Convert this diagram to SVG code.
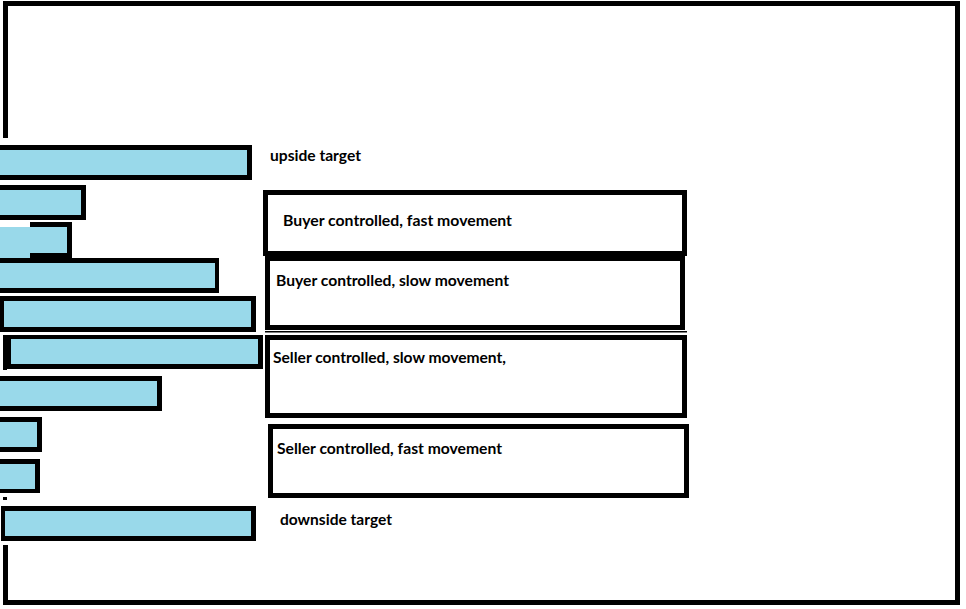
<svg xmlns="http://www.w3.org/2000/svg" width="966" height="609" viewBox="0 0 966 609">
<style>
.k{fill:#000}
.b{fill:#99d9ea}
.w{fill:#fff}
.t{font-family:Lato,"Open Sans","Liberation Sans",sans-serif;font-weight:bold;font-size:16px;fill:#000}
</style>
<rect x="0" y="0" width="966" height="609" fill="#fff"/>
<g id="frame">
<rect class="k" x="3" y="1" width="957" height="5"/>
<rect class="k" x="955" y="1" width="5" height="604"/>
<rect class="k" x="3" y="600" width="957" height="5"/>
<rect class="k" x="3" y="1" width="5" height="137"/>
<rect class="k" x="3" y="545" width="5" height="60"/>
</g>
<g id="bars">
<g id="bar1"><rect class="k" x="0" y="145" width="252" height="35"/><rect class="b" x="0" y="150" width="247" height="25"/></g>
<g id="bar2"><rect class="k" x="0" y="185" width="86" height="35"/><rect class="b" x="0" y="190" width="81" height="25"/></g>
<g id="bar3"><rect class="k" x="30" y="222" width="42" height="36"/><rect class="b" x="0" y="227" width="67" height="26"/><rect class="b" x="0" y="227" width="30" height="31"/></g>
<g id="bar4"><rect class="k" x="0" y="258" width="219" height="35"/><rect class="b" x="0" y="263" width="215" height="25"/></g>
<g id="bar5"><rect class="k" x="0" y="296" width="256" height="36"/><rect class="b" x="4" y="301" width="247" height="26"/></g>
<g id="bar6"><rect class="k" x="3" y="335" width="260" height="34"/><rect class="b" x="11" y="339" width="247" height="25"/><rect class="k" x="3" y="364" width="4" height="6"/></g>
<g id="bar7"><rect class="k" x="0" y="376" width="162" height="35"/><rect class="b" x="0" y="381" width="157" height="25"/></g>
<g id="bar8"><rect class="k" x="0" y="417" width="42" height="35"/><rect class="b" x="0" y="422" width="37" height="25"/></g>
<g id="bar9"><rect class="k" x="0" y="459" width="40" height="34"/><rect class="b" x="0" y="464" width="35" height="25"/></g>
<rect class="k" x="3" y="497" width="4" height="3"/>
<g id="bar10"><rect class="k" x="1" y="506" width="255" height="35"/><rect class="b" x="5" y="511" width="246" height="25"/></g>
</g>
<g id="upside-target"><text class="t" x="270" y="161" textLength="91" lengthAdjust="spacingAndGlyphs">upside target</text></g>
<g id="buyer-fast">
<rect class="k" x="263" y="190" width="424" height="66"/><rect class="w" x="268" y="195" width="414" height="56"/>
<text class="t" x="283" y="226" textLength="229" lengthAdjust="spacingAndGlyphs">Buyer controlled, fast movement</text>
</g>
<g id="buyer-slow">
<rect class="k" x="265" y="251" width="420" height="79"/><rect class="w" x="270" y="261" width="410" height="64"/>
<text class="t" x="276" y="286" textLength="233" lengthAdjust="spacingAndGlyphs">Buyer controlled, slow movement</text>
</g>
<rect class="k" x="265" y="331" width="422" height="1.5"/>
<g id="seller-slow">
<rect class="k" x="265" y="335" width="422" height="83"/><rect class="w" x="270" y="340" width="412" height="73"/>
<text class="t" x="273" y="363" textLength="233" lengthAdjust="spacingAndGlyphs">Seller controlled, slow movement,</text>
</g>
<g id="seller-fast">
<rect class="k" x="268" y="424" width="421" height="74"/><rect class="w" x="273" y="429" width="411" height="64"/>
<text class="t" x="277" y="454" textLength="225" lengthAdjust="spacingAndGlyphs">Seller controlled, fast movement</text>
</g>
<g id="downside-target"><text class="t" x="280" y="525" textLength="112" lengthAdjust="spacingAndGlyphs">downside target</text></g>
<g id="connectors"/>
</svg>
